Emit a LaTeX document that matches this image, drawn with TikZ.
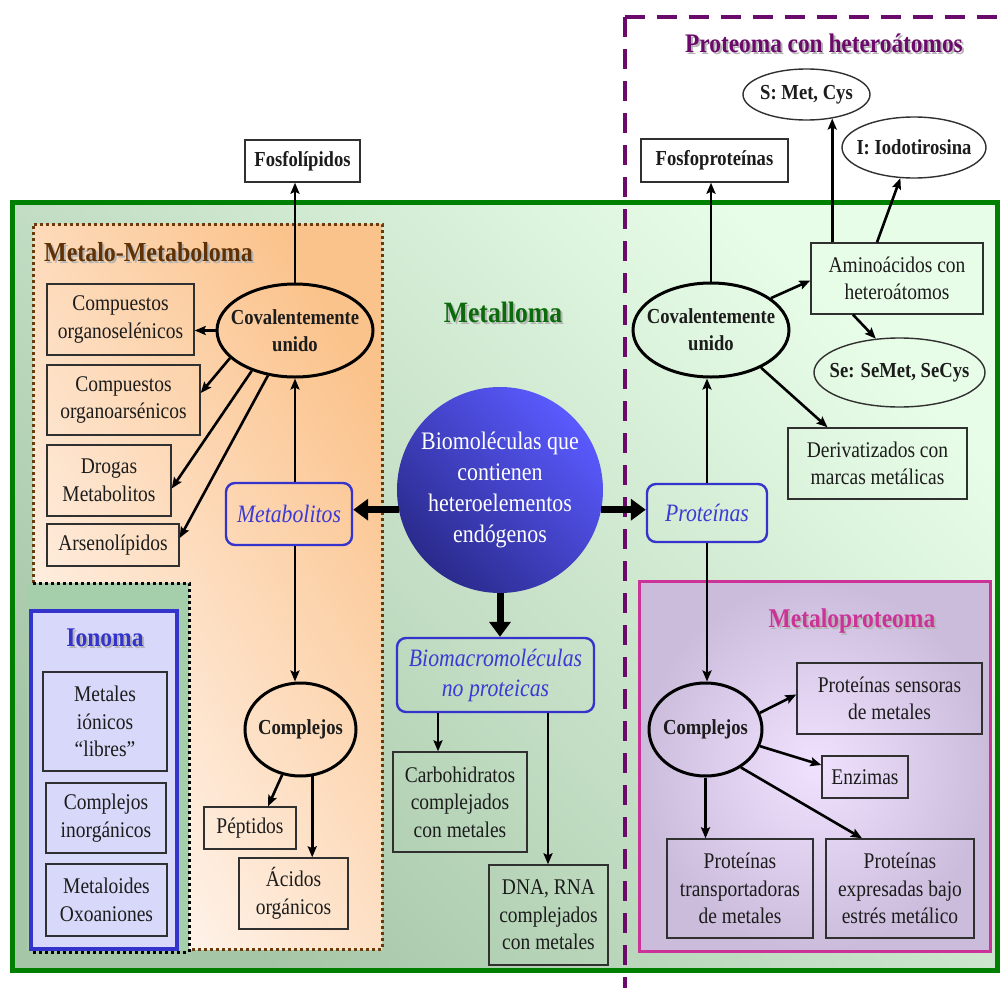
\documentclass[tikz,border=0pt]{standalone}
\usepackage{fontspec}
\setmainfont{Liberation Serif}[FakeStretch=0.87]
\usetikzlibrary{shapes.geometric,arrows.meta}
\definecolor{gborder}{HTML}{008000}
\definecolor{gdark}{HTML}{A6C6A8}
\definecolor{glight}{HTML}{E8FDE8}
\definecolor{olight}{HTML}{FFF7F2}
\definecolor{odark}{HTML}{FBC38C}
\definecolor{brownc}{HTML}{6B3A0A}
\definecolor{browntitle}{HTML}{5E3206}
\definecolor{ionpatch}{HTML}{A5CFAA}
\definecolor{ionfill}{HTML}{D8D8FA}
\definecolor{blueb}{HTML}{3434CC}
\definecolor{bluet}{HTML}{3A3AD4}
\definecolor{purp}{HTML}{6B0A6B}
\definecolor{magc}{HTML}{CC3399}
\definecolor{mpin}{HTML}{F0E2FF}
\definecolor{mpout}{HTML}{CCBCDC}
\definecolor{cbright}{HTML}{5A5AFF}
\definecolor{cdark}{HTML}{2A2A8C}
\definecolor{titlegreen}{HTML}{0B6A0B}
\definecolor{boxc}{HTML}{303030}
\definecolor{txt}{HTML}{1C1C1C}
\definecolor{shadowc}{HTML}{B4B4B4}
\tikzset{
 box/.style={draw=boxc, line width=1.4pt, text=txt, align=center, inner sep=0pt, font=\fontsize{22.4}{27.5}\selectfont},
 bbox/.style={box, font=\bfseries\fontsize{21.4}{26}\selectfont},
 ell/.style={ellipse, draw=black, line width=3pt, inner sep=0pt},
 thinell/.style={ellipse, draw=boxc, line width=1.4pt, inner sep=0pt},
 elltxt/.style={text=txt, align=center, inner sep=0pt, font=\bfseries\fontsize{21.4}{27}\selectfont},
 rbox/.style={draw=blueb, line width=2.4pt, rounded corners=9pt, text=bluet, align=center, inner sep=0pt, font=\itshape\fontsize{25}{30}\selectfont},
 arr/.style={line width=2.6pt, draw=black, -{Stealth[length=11pt,width=9pt,inset=2pt]}},
 tharr/.style={line width=7pt, draw=black, -{Triangle[length=15pt,width=21pt]}},
 ttl/.style={inner sep=0pt, font=\bfseries\fontsize{26}{30}\selectfont},
 purpdash/.style={draw=purp, line width=4pt, dash pattern=on 20pt off 12pt},
 dotline/.style={line width=3pt, dash pattern=on 3pt off 3pt},
}
\begin{document}
\begin{tikzpicture}[x=1pt,y=-1pt]
\useasboundingbox (0,0) rectangle (1005,988);
% backgrounds
\shade[bottom color=gdark, top color=glight, shading angle=-45] (12,202) rectangle (997,970);
\shade[bottom color=olight, top color=odark, shading angle=-60] (33,224) rectangle (382,949);
\fill[ionpatch] (27,583) rectangle (189,950);
\draw[dotline, brownc] (33,583) -- (33,224) -- (382,224) -- (382,949) -- (189,949);
\draw[dotline, black] (33,583) -- (189,583) -- (189,952) -- (31,952);
\draw[blueb, line width=4pt, fill=ionfill] (31,611) rectangle (177,949);
\shade[inner color=mpin, outer color=mpout] (639,581) rectangle (990,951);
\draw[magc, line width=3pt] (639,581) rectangle (990,951);
\draw[gborder, line width=5pt] (12,202) rectangle (997,970);
\draw[purpdash] (625,17) -- (625,988);
\draw[purpdash] (625,17) -- (1005,17);

% titles
\node[ttl, text=shadowc, font=\bfseries\fontsize{27.5}{30}\selectfont] (tMMs) at (150.5,254) {Metalo-Metaboloma};
\node[ttl, text=browntitle, font=\bfseries\fontsize{27.5}{30}\selectfont] (tMM) at (148.5,252) {Metalo-Metaboloma};
\node[ttl, text=shadowc, font=\bfseries\fontsize{27}{30}\selectfont] (tIons) at (107,640) {Ionoma};
\node[ttl, text=blueb, font=\bfseries\fontsize{27}{30}\selectfont] (tIon) at (105,638) {Ionoma};
\node[ttl, text=shadowc, font=\bfseries\fontsize{29.5}{32}\selectfont] (tMetS) at (505,314) {Metalloma};
\node[ttl, text=titlegreen, font=\bfseries\fontsize{29.5}{32}\selectfont] (tMet) at (503,312) {Metalloma};
\node[ttl, text=shadowc, font=\bfseries\fontsize{26.8}{30}\selectfont] (tProS) at (826,45) {Proteoma con heteroátomos};
\node[ttl, text=purp, font=\bfseries\fontsize{26.8}{30}\selectfont] (tPro) at (824,43) {Proteoma con heteroátomos};
\node[ttl, text=shadowc, font=\bfseries\fontsize{27}{30}\selectfont] (tMPs) at (854,623) {Metaloproteoma};
\node[ttl, text=magc, font=\bfseries\fontsize{27}{30}\selectfont] (tMP) at (852,621) {Metaloproteoma};

% left side
\node[bbox, minimum width=115pt, minimum height=42pt] (fosfoL) at (302.5,161) {Fosfolípidos};
\node[box, minimum width=147pt, minimum height=71pt] (orgSe) at (120.5,319.5) {Compuestos\\organoselénicos};
\node[box, minimum width=153pt, minimum height=70pt] (orgAs) at (123.5,400) {Compuestos\\organoarsénicos};
\node[box, minimum width=124pt, minimum height=71pt] (drogas) at (109,480.5) {Drogas\\Metabolitos};
\node[box, minimum width=132pt, minimum height=42pt] (arseno) at (113,545) {Arsenolípidos};
\node[box, minimum width=124pt, minimum height=99pt] (ionLib) at (105,721.5) {Metales\\iónicos\\“libres”};
\node[box, minimum width=120pt, minimum height=70pt] (ionComp) at (106,818) {Complejos\\inorgánicos};
\node[box, minimum width=121pt, minimum height=72pt] (ionOxo) at (106.5,900) {Metaloides\\Oxoaniones};
\node[ell, minimum width=156pt, minimum height=93pt] (covL) at (295,330.5) {};
\node[elltxt] (covLt) at (covL) {Covalentemente\\unido};
\node[rbox, minimum width=126pt, minimum height=62pt] (metab) at (289,514) {Metabolitos};
\node[ell, minimum width=111pt, minimum height=93pt] (compL) at (300.5,729.5) {};
\node[elltxt] (compLt) at (compL) {Complejos};
\node[box, minimum width=92pt, minimum height=42pt] (pept) at (250,828) {Péptidos};
\node[box, minimum width=109pt, minimum height=71pt] (acid) at (293.5,893.5) {Ácidos\\orgánicos};

% centre
\node[circle, minimum size=206pt, inner sep=0pt, bottom color=cdark, top color=cbright, shading angle=-45] (circ) at (500,490) {};
\node[align=center, text=white, inner sep=0pt, font=\fontsize{25.2}{31}\selectfont] (circT) at (circ) {Biomoléculas que\\contienen\\heteroelementos\\endógenos};
\node[rbox, minimum width=197pt, minimum height=74pt] (biomac) at (495.5,675) {Biomacromoléculas\\no proteicas};
\node[box, minimum width=134pt, minimum height=100pt] (carbo) at (460,802) {Carbohidratos\\complejados\\con metales};
\node[box, minimum width=119pt, minimum height=100pt] (dna) at (548.5,915) {DNA, RNA\\complejados\\con metales};

% right side
\node[thinell, minimum width=127pt, minimum height=51pt] (sMet) at (806.5,94.5) {};
\node[elltxt] (sMetT) at (sMet) {S: Met, Cys};
\node[thinell, minimum width=144pt, minimum height=61pt] (iodo) at (914,147.5) {};
\node[elltxt] (iodoT) at (iodo) {I: Iodotirosina};
\node[bbox, minimum width=147pt, minimum height=43pt] (fosfoP) at (714.5,160.5) {Fosfoproteínas};
\node[box, minimum width=172pt, minimum height=71pt] (amino) at (897,278.5) {Aminoácidos con\\heteroátomos};
\node[ell, minimum width=156pt, minimum height=94pt] (covR) at (711,330) {};
\node[elltxt] (covRt) at (covR) {Covalentemente\\unido};
\node[thinell, minimum width=171pt, minimum height=69pt] (se) at (899.5,372.5) {};
\node[elltxt] (seT) at (se) {Se: SeMet, SeCys};
\node[box, minimum width=179pt, minimum height=71pt] (deriv) at (877.5,463.5) {Derivatizados con\\marcas metálicas};
\node[rbox, minimum width=120pt, minimum height=58pt] (prot) at (707,513) {Proteínas};
\node[ell, minimum width=113pt, minimum height=93pt] (compR) at (705.5,729.5) {};
\node[elltxt] (compRt) at (compR) {Complejos};
\node[box, minimum width=185pt, minimum height=71pt] (sens) at (889.5,698.5) {Proteínas sensoras\\de metales};
\node[box, minimum width=86pt, minimum height=42pt] (enz) at (865,777) {Enzimas};
\node[box, minimum width=146pt, minimum height=99pt] (transp) at (740,888.5) {Proteínas\\transportadoras\\de metales};
\node[box, minimum width=148pt, minimum height=99pt] (expr) at (900,888.5) {Proteínas\\expresadas bajo\\estrés metálico};

% connectors left
\draw[arr] (covL.north) -- (covL.north |- fosfoL.south);
\draw[arr] (covL.west) -- (covL.west -| orgSe.east);
\draw[arr] (covL.203) -- ([yshift=7pt]orgAs.east);
\draw[arr] (covL.223) -- ([yshift=-8pt]drogas.east);
\draw[arr] (covL.239) -- ([yshift=7pt]arseno.east);
\draw[arr] (covL.south |- metab.north) -- (covL.south);
\draw[arr] (covL.south |- metab.south) -- (covL.south |- compL.north);
\draw[arr] (compL.248) -- ([xshift=18pt]pept.north);
\draw[arr] (compL.284) -- (compL.284 |- acid.north);
% centre
\draw[tharr] (circ.191) -- (circ.191 -| metab.east);
\draw[tharr] (circ.-11) -- (circ.-11 -| prot.west);
\draw[tharr] (circ.south) -- (circ.south |- biomac.north);
\draw[arr] ([xshift=-57.5pt]biomac.south) -- ([xshift=-57.5pt]biomac.south |- carbo.north);
\draw[arr] ([xshift=52.5pt]biomac.south) -- ([xshift=52.5pt]biomac.south |- dna.north);
% right
\draw[arr] (covR.north) -- (covR.north |- fosfoP.south);
\draw[arr] (covR.28) -- ([yshift=-2pt]amino.west);
\draw[arr] (sMet.-43 |- amino.north) -- (sMet.-43);
\draw[arr] ([xshift=-20pt]amino.north) -- (iodo.246);
\draw[arr] ([xshift=-44pt]amino.south) -- (se.125);
\draw[arr] (covR.-37) -- ([xshift=-50pt]deriv.north);
\draw[arr] (prot.north) -- (prot.north |- covR.south);
\draw[arr] (prot.south) -- (prot.south |- compR.north);
\draw[arr] (compR.17) -- ([yshift=4pt]sens.west);
\draw[arr] (compR.-17) -- ([yshift=12pt]enz.west);
\draw[arr] (compR.-47) -- ([xshift=-38pt]expr.north);
\draw[arr] (compR.south) -- (compR.south |- transp.north);
\end{tikzpicture}
\end{document}
